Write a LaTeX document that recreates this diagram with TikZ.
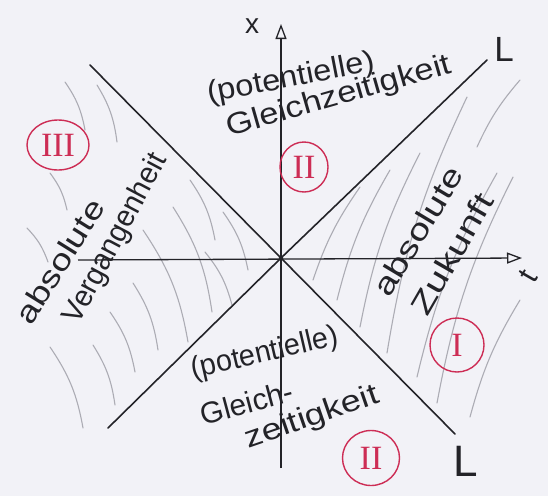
\documentclass[tikz,border=0pt]{standalone}
\usepackage{graphicx}
\usepackage{fontspec}
\setmainfont{Liberation Sans}
\newfontfamily\numfont{Liberation Serif}
\usetikzlibrary{arrows.meta,shapes.geometric}
\definecolor{bg}{RGB}{242,242,247}
\definecolor{ink}{RGB}{35,35,40}
\definecolor{hatch}{RGB}{172,172,180}
\definecolor{redink}{RGB}{205,45,85}
\newcommand{\fitw}[2]{\resizebox{#1}{\height}{#2}}
\tikzset{
  hatchline/.style={draw=hatch, line width=1.1pt, line cap=round},
  lcone/.style={draw=ink, line width=1.6pt, line cap=round},
  axisline/.style={draw=ink, line width=1.3pt},
  hand/.style={text=ink, inner sep=0pt, font=\fontsize{30}{30}\selectfont},
  ring/.style={draw=redink, line width=1.4pt, ellipse, inner sep=0pt,
    text=redink, font=\numfont\fontsize{34}{34}\selectfont},
  tip/.style={-{Triangle[open, length=15pt, width=11pt]}}
}
\begin{document}
\begin{tikzpicture}[x=1pt,y=-1pt]
\fill[bg] (0,0) rectangle (548,496);
\useasboundingbox (0,0) rectangle (548,496);

% key points
\coordinate (O) at (281,258);
\coordinate (ul) at (90,65);
\coordinate (ur) at (487,60);
\coordinate (ll) at (108,428);
\coordinate (lr) at (455,434);
\coordinate (xb) at (281,468);
\coordinate (xt) at (281,24);
\coordinate (tl) at (78,260);
\coordinate (tr) at (522,258);

% hatching, region III
\draw[hatchline] (65,82) to[bend left=12] (85,130);
\draw[hatchline] (97,85) to[bend left=12] (117,142);
\draw[hatchline] (50,173) to[bend left=12] (67,210);
\draw[hatchline] (27,228) to[bend left=12] (48,262);
\draw[hatchline] (190,180) to[bend left=12] (215,240);
\draw[hatchline] (223,212) to[bend left=12] (248,270);
\draw[hatchline] (173,207) to[bend left=12] (212,312);
\draw[hatchline] (143,230) to[bend left=12] (188,342);
\draw[hatchline] (205,252) to[bend left=12] (232,305);
\draw[hatchline] (133,283) to[bend left=12] (158,350);
\draw[hatchline] (110,312) to[bend left=12] (135,372);
\draw[hatchline] (93,345) to[bend left=12] (115,405);
\draw[hatchline] (50,347) to[bend left=12] (83,428);

% hatching, region I
\draw[hatchline] (313,280) to[bend left=8] (360,187);
\draw[hatchline] (337,300) to[bend left=8] (390,170);
\draw[hatchline] (360,327) to[bend left=8] (420,153);
\draw[hatchline] (387,353) to[bend left=8] (467,97);
\draw[hatchline] (417,377) to[bend left=8] (497,173);
\draw[hatchline] (437,403) to[bend left=8] (513,177);
\draw[hatchline] (470,417) to[bend left=8] (520,300);
\draw[hatchline] (477,147) to[bend left=8] (520,80);

% axes
\draw[axisline, tip] (xb) -- (xt);
\draw[axisline, tip] (tl) -- (tr);

% light cone lines
\draw[lcone] (ul) -- (O) -- (lr);
\draw[lcone] (ll) -- (O) -- (ur);
\fill[ink] (O) circle (2.3);

% axis and line labels
\node[hand, font=\fontsize{28}{28}\selectfont] (xlab) at (252,26) {x};
\node[hand, font=\fontsize{30}{30}\selectfont, rotate=60] (tlab) at (528,276) {t};
\node[hand, font=\fontsize{35}{35}\selectfont] (L1) at (504,49) {L};
\node[hand, font=\fontsize{44}{44}\selectfont] (L2) at (466,461) {L};

% texts
\node[hand, rotate=11] (potA) at (291,79) {\fitw{170pt}{(potentielle)}};
\node[hand, rotate=16] (gzA) at (339,97) {\fitw{232pt}{Gleichzeitigkeit}};
\node[hand, rotate=13] (potB) at (265,354) {\fitw{150pt}{(potentielle)}};
\node[hand, rotate=15] (glB) at (247,403) {\fitw{95pt}{Gleich-}};
\node[hand, rotate=19] (zB) at (312,418) {\fitw{140pt}{zeitigkeit}};
\node[hand, rotate=58] (absL) at (60,261) {\fitw{140pt}{absolute}};
\node[hand, rotate=62] (verg) at (116,239) {\fitw{188pt}{Vergangenheit}};
\node[hand, rotate=59] (absR) at (418,231) {\fitw{145pt}{absolute}};
\node[hand, rotate=60] (zuk) at (452,254) {\fitw{135pt}{Zukunft}};

% region numerals
\node[ring, minimum width=62pt, minimum height=50pt] (n3) at (58,145) {III};
\node[ring, minimum width=48pt, minimum height=50pt] (n2a) at (304,167) {II};
\node[ring, minimum width=54pt, minimum height=54pt] (n1) at (457,345) {I};
\node[ring, minimum width=57pt, minimum height=55pt] (n2b) at (371,458) {II};
\end{tikzpicture}
\end{document}
